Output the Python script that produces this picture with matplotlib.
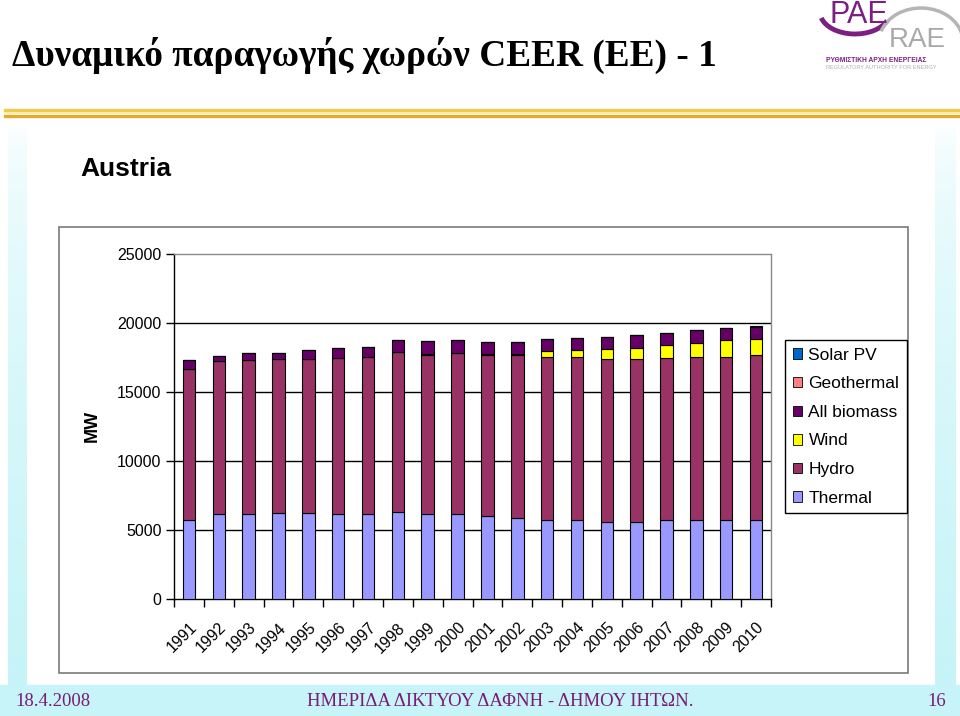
import numpy as np
import matplotlib.pyplot as plt
from matplotlib.patches import Patch, Rectangle, Arc
from matplotlib.transforms import ScaledTranslation

# data (MW)
years = ['1991', '1992', '1993', '1994', '1995', '1996', '1997', '1998', '1999', '2000',
         '2001', '2002', '2003', '2004', '2005', '2006', '2007', '2008', '2009', '2010']
thermal = [5700, 6150, 6150, 6250, 6250, 6150, 6150, 6340, 6150, 6150,
           6050, 5880, 5760, 5690, 5590, 5590, 5690, 5690, 5690, 5690]
hydro = [10990, 11080, 11150, 11150, 11150, 11350, 11360, 11540, 11560, 11690,
         11660, 11830, 11760, 11830, 11810, 11810, 11780, 11860, 11860, 12020]
wind = [0, 0, 0, 0, 0, 0, 40, 20, 20, 20,
        30, 30, 440, 510, 730, 800, 970, 970, 1210, 1150]
biomass = [610, 410, 560, 440, 630, 670, 730, 860, 930, 900,
           900, 900, 850, 870, 870, 920, 830, 940, 850, 880]
geothermal = [0] * 20
solar = [0, 0, 0, 0, 0, 0, 0, 0, 0, 0,
         0, 0, 0, 0, 0, 0, 0, 0, 10, 40]

series = [('Thermal', thermal, '#9999ff'),
          ('Hydro', hydro, '#993366'),
          ('Wind', wind, '#ffff00'),
          ('All biomass', biomass, '#660066'),
          ('Geothermal', geothermal, '#ff8080'),
          ('Solar PV', solar, '#0066cc')]

title = 'Δυναμικό παραγωγής χωρών CEER (ΕΕ) - 1'
footer_left = '18.4.2008'
footer_mid = 'ΗΜΕΡΙΔΑ ΔΙΚΤΥΟΥ ΔΑΦΝΗ - ΔΗΜΟΥ ΙΗΤΩΝ.'
footer_right = '16'

W, H = 960, 716
fig = plt.figure(figsize=(W / 100, H / 100), dpi=100)
fig.patch.set_facecolor('white')

def fx(x):
    return x / W

def fy(y):
    return 1 - y / H

# slide background in pixel coords (y grows downwards)
bg = fig.add_axes([0, 0, 1, 1])
bg.set_xlim(0, W)
bg.set_ylim(H, 0)
bg.axis('off')

cyan = '#c6f4f8'
grad = np.linspace(0.0, 1.0, 200).reshape(-1, 1)
for x0, x1 in [(8, 27), (935, 956)]:
    img = np.ones((200, 1, 4))
    img[..., 0] = 0xc6 / 255
    img[..., 1] = 0xf4 / 255
    img[..., 2] = 0xf8 / 255
    img[..., 3] = grad[:, 0:1] ** 0.5
    bg.imshow(img, extent=(x0, x1, 685, 125), aspect='auto', zorder=1)
bg.add_patch(Rectangle((0, 685), W, H - 685, color=cyan, zorder=1))

# gold double line
bg.plot([5, W], [109.5, 109.5], color='#f2c94c', lw=2.4, zorder=2)
bg.plot([5, W], [112.5, 112.5], color='#fbe7a6', lw=1.2, zorder=2)
bg.plot([5, W], [115.5, 115.5], color='#e3ad2a', lw=2.4, zorder=2)

bg.text(12, 66, title, fontsize=26.8, fontweight='bold', family='Liberation Serif',
        ha='left', va='baseline', zorder=3)

# logo
bg.add_patch(Arc((855, 12), 70, 44, theta1=15, theta2=170, color='#7b1f82', lw=3.5, zorder=3))
bg.add_patch(Arc((921, 42), 84, 68, theta1=195, theta2=350, color='#b5b5b5', lw=2.5, zorder=3))
bg.text(829, 23, 'PAE', fontsize=22, color='#7b1f82', family='Liberation Sans',
        ha='left', va='baseline', zorder=4)
bg.text(889, 47, 'RAE', fontsize=20, color='#a9a9a9', family='Liberation Sans',
        ha='left', va='baseline', zorder=4)
bg.text(826, 62, 'ΡΥΘΜΙΣΤΙΚΗ ΑΡΧΗ ΕΝΕΡΓΕΙΑΣ', fontsize=4.8, color='#7b1f82',
        fontweight='bold', family='Liberation Sans', ha='left', va='baseline', zorder=4)
bg.text(826, 69, 'REGULATORY AUTHORITY FOR ENERGY', fontsize=4.1, color='#b0b0b0',
        family='Liberation Sans', ha='left', va='baseline', zorder=4)

# footer
purple = '#7b1c74'
bg.text(15, 706, footer_left, fontsize=13.5, color=purple, family='Liberation Serif',
        ha='left', va='baseline', zorder=3)
bg.text(500, 706, footer_mid, fontsize=13.5, color=purple, family='Liberation Serif',
        ha='center', va='baseline', zorder=3)
bg.text(946, 706, footer_right, fontsize=13.5, color=purple, family='Liberation Serif',
        ha='right', va='baseline', zorder=3)

# chart frame
bg.add_patch(Rectangle((59, 227), 849, 446, facecolor='white', edgecolor='#7a7a7a',
                       lw=1.2, zorder=2))
bg.text(80, 176, 'Austria', fontsize=19, fontweight='bold', family='Liberation Sans',
        ha='left', va='baseline', zorder=3)
bg.text(92, 426, 'MW', fontsize=13, fontweight='bold', family='Liberation Sans',
        rotation=90, ha='center', va='center', zorder=3)

# plot area
ax = fig.add_axes([fx(174), fy(599), fx(771) - fx(174), fy(254) - fy(599)])
ax.set_facecolor('white')
x = np.arange(len(years))
bottom = np.zeros(len(years))
for name, vals, col in series:
    vals = np.array(vals, dtype=float)
    ax.bar(x, vals, width=0.42, bottom=bottom, color=col, edgecolor='black',
           linewidth=0.8, label=name, zorder=3)
    bottom += vals

ax.set_xlim(-0.5, len(years) - 0.5)
ax.set_ylim(0, 25000)
ax.set_yticks(np.arange(0, 25001, 5000))
ax.set_yticklabels([str(v) for v in range(0, 25001, 5000)],
                   fontsize=11.5, family='Liberation Sans')
for yv in range(5000, 25000, 5000):
    ax.axhline(yv, color='black', lw=1.0, zorder=1)

ax.set_xticks(x)
ax.set_xticklabels(years, rotation=45, ha='right', va='top', rotation_mode='anchor',
                   fontsize=11.5, family='Liberation Sans')
shift = ScaledTranslation(-4 / 100, 0, fig.dpi_scale_trans)
for lab in ax.get_xticklabels():
    lab.set_transform(lab.get_transform() + shift)
ax.set_xticks(np.arange(-0.5, len(years)), minor=True)
ax.tick_params(axis='x', which='major', length=0, pad=15)
ax.tick_params(axis='x', which='minor', length=6, direction='out', width=1)
ax.tick_params(axis='y', length=6, direction='out', width=1, pad=3)

ax.spines['left'].set_color('black')
ax.spines['bottom'].set_color('black')
ax.spines['top'].set_color('#8a8a8a')
ax.spines['right'].set_color('#8a8a8a')
for s in ax.spines.values():
    s.set_linewidth(1.0)

handles = [Patch(facecolor=c, edgecolor='black', linewidth=0.6, label=n)
           for n, v, c in series[::-1]]
leg = ax.legend(handles=handles, loc='upper left', bbox_to_anchor=(fx(785), fy(340)),
                bbox_transform=fig.transFigure, borderaxespad=0,
                prop={'family': 'Liberation Sans', 'size': 12.5},
                handlelength=0.55, handleheight=0.55, handletextpad=0.35,
                labelspacing=0.78, borderpad=0.45, fancybox=False, framealpha=1)
leg.get_frame().set_edgecolor('black')
leg.get_frame().set_linewidth(1.0)

fig.savefig('out.png', dpi=100)
